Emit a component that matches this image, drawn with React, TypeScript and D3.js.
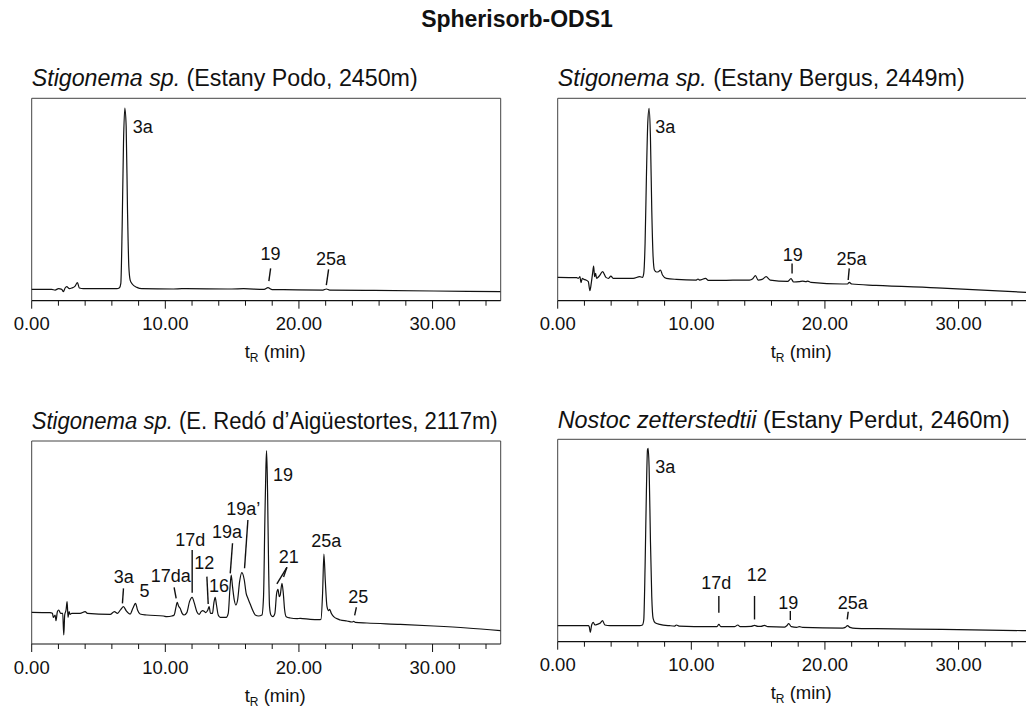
import React from "react";
import * as d3 from "d3";

// ---------- DATA ----------
const chartTitle = "Spherisorb-ODS1";
const xDomain: [number, number] = [0, 35.1];
const majorTicks = [0, 10, 20, 30];
const minorTicks = [2, 4, 6, 8, 12, 14, 16, 18, 22, 24, 26, 28, 32, 34];

const speciesNames = ["Stigonema sp.", "Stigonema sp.", "Stigonema sp.", "Nostoc zetterstedtii"];
const siteNames = [
  " (Estany Podo, 2450m)",
  " (Estany Bergus, 2449m)",
  " (E. Redó d\u2019Aigüestortes, 2117m)",
  " (Estany Perdut, 2460m)",
];

// [time (min), signal (% of panel height)]
const podoTrace: [number, number][] = [
  [0, 5.6], [1.5, 5.6], [1.75, 5.27], [2.0, 5.93], [2.25, 5.6], [2.37, 4.45], [2.5, 6.26],
  [2.62, 6.92], [2.82, 5.93], [3.0, 6.26], [3.25, 7.25], [3.42, 8.9], [3.57, 6.26], [3.87, 5.93],
  [6.37, 5.93], [6.57, 6.43], [6.67, 8.57], [6.77, 36.6], [6.87, 77.8], [6.97, 95.1], [7.07, 86.0],
  [7.17, 44.8], [7.27, 16.8], [7.37, 10.2], [7.52, 8.24], [7.87, 6.59], [8.24, 5.93],
  [10.61, 5.77], [11.24, 5.93], [14.98, 5.77], [15.86, 5.93], [17.4, 5.6], [17.68, 6.43],
  [18.0, 5.5], [18.85, 5.44], [21.8, 5.27], [22.05, 5.77], [22.3, 5.27], [25.09, 5.1],
  [30.09, 4.78], [35.08, 4.45],
];

const bergusTrace: [number, number][] = [
  [0.0, 11.53], [1.42, 11.37], [1.54, 11.04], [1.67, 11.86], [1.74, 8.9], [1.84, 11.04],
  [1.97, 10.54], [2.11, 10.21], [2.29, 9.39], [2.41, 4.94], [2.51, 8.57], [2.61, 13.51],
  [2.69, 17.13], [2.76, 11.86], [2.84, 13.51], [2.91, 11.04], [3.11, 12.19], [3.36, 14.33],
  [3.61, 11.53], [3.81, 11.04], [3.98, 12.19], [4.15, 11.04], [5.65, 11.04], [6.14, 11.86],
  [6.34, 11.53], [6.44, 13.51], [6.54, 28.34], [6.64, 61.29], [6.74, 87.64], [6.84, 95.06],
  [6.94, 81.05], [7.04, 44.81], [7.14, 21.75], [7.24, 15.16], [7.39, 14.17], [7.54, 14.33],
  [7.69, 15.16], [7.84, 12.69], [8.13, 11.04], [8.88, 10.54], [10.37, 10.21], [10.5, 10.71],
  [10.62, 10.21], [11.07, 11.04], [11.27, 10.05], [12.61, 10.05], [13.61, 10.21],
  [14.35, 10.21], [14.6, 10.87], [14.8, 12.36], [15.0, 10.21], [15.3, 10.54], [15.6, 11.86],
  [15.9, 10.21], [17.21, 9.56], [17.46, 10.87], [17.66, 9.23], [18.08, 9.39], [18.33, 9.72],
  [18.58, 9.39], [18.71, 9.72], [18.96, 9.06], [21.32, 8.24], [21.69, 8.24], [21.82, 9.06],
  [22.01, 8.24], [23.81, 7.58], [28.78, 6.26], [35.1, 4.12],
];

const redoTrace: [number, number][] = [
  [0, 15.6], [1.37, 15.44], [1.55, 15.11], [1.62, 13.14], [1.75, 14.29], [1.82, 11.49],
  [1.92, 15.93], [2.02, 16.75], [2.17, 15.11], [2.32, 15.11], [2.4, 4.43], [2.47, 14.29],
  [2.57, 16.75], [2.65, 20.85], [2.72, 13.14], [2.8, 15.93], [2.87, 14.61], [3.0, 15.11],
  [3.62, 15.11], [4.0, 15.93], [4.17, 15.11], [5.87, 14.61], [6.19, 15.93], [6.42, 15.11],
  [6.67, 17.08], [6.87, 18.39], [7.07, 16.42], [7.37, 14.78], [7.57, 17.57], [7.77, 20.03],
  [7.92, 16.75], [8.11, 14.78], [8.61, 14.29], [9.86, 13.79], [10.11, 13.46], [10.49, 13.79],
  [10.66, 14.29], [10.79, 17.9], [10.89, 20.53], [10.99, 18.72], [11.11, 17.57], [11.26, 15.11],
  [11.41, 14.29], [11.61, 15.44], [11.81, 20.85], [12.01, 22.99], [12.16, 20.36], [12.36, 15.93],
  [12.53, 14.61], [12.68, 15.93], [12.81, 16.42], [12.91, 16.09], [13.03, 15.44], [13.18, 16.75],
  [13.28, 18.39], [13.38, 15.11], [13.53, 15.11], [13.63, 20.03], [13.73, 22.99], [13.83, 19.21],
  [13.96, 14.29], [14.11, 13.14], [14.56, 13.14], [14.71, 15.11], [14.83, 26.6], [14.93, 33.99],
  [15.03, 28.24], [15.16, 21.67], [15.28, 19.21], [15.41, 21.67], [15.56, 30.71], [15.73, 35.14],
  [15.91, 31.53], [16.05, 24.96], [16.18, 22.5], [16.35, 19.7], [16.53, 16.75], [16.73, 14.29],
  [16.98, 13.79], [17.23, 14.29], [17.35, 23.32], [17.45, 61.08], [17.53, 87.36], [17.58, 95.24],
  [17.65, 75.86], [17.73, 38.1], [17.8, 18.39], [17.9, 14.29], [18.05, 13.46], [18.2, 15.11],
  [18.33, 24.96], [18.43, 26.93], [18.53, 23.32], [18.6, 24.14], [18.73, 29.89], [18.83, 24.96],
  [18.93, 16.75], [19.05, 13.46], [19.35, 12.81], [19.85, 12.48], [20.1, 12.64], [20.85, 12.15],
  [21.47, 11.99], [21.65, 12.15], [21.77, 24.96], [21.87, 44.33], [21.97, 31.53], [22.1, 18.39],
  [22.22, 16.42], [22.3, 17.08], [22.42, 15.11], [22.6, 13.46], [22.97, 12.15], [23.1, 11.82],
  [23.6, 11.33], [23.97, 10.84], [24.1, 11.17], [24.22, 10.67], [25.09, 10.34], [27.59, 9.69],
  [30.09, 8.87], [32.58, 7.88], [35.08, 6.57],
];

const perdutTrace: [number, number][] = [
  [0.0, 7.91], [2.29, 7.91], [2.36, 7.41], [2.44, 4.61], [2.54, 8.24], [2.66, 9.56], [2.79, 8.24],
  [2.96, 8.57], [3.16, 9.06], [3.36, 10.38], [3.53, 8.24], [3.91, 7.91], [6.14, 7.91], [6.34, 8.24],
  [6.44, 10.71], [6.54, 37.07], [6.64, 74.96], [6.72, 94.73], [6.77, 95.55], [6.84, 86.49],
  [6.94, 50.25], [7.04, 22.24], [7.14, 11.53], [7.29, 9.39], [7.64, 8.57], [8.38, 7.91],
  [8.76, 7.74], [8.88, 8.24], [9.08, 7.74], [11.37, 7.41], [11.92, 7.41], [12.06, 8.57],
  [12.21, 7.41], [13.23, 7.41], [13.48, 8.24], [13.66, 7.41], [14.48, 7.58], [14.73, 8.07],
  [14.98, 7.58], [15.22, 7.58], [15.47, 8.07], [15.72, 7.41], [16.97, 7.25], [17.14, 7.91],
  [17.29, 8.9], [17.49, 7.41], [17.89, 7.08], [18.08, 7.41], [18.33, 7.08], [21.32, 6.75],
  [21.52, 7.08], [21.69, 7.91], [21.87, 7.08], [22.31, 6.59], [23.81, 6.43], [28.78, 6.1],
  [35.1, 5.44],
];

type Ann = { text: string; t: number; v: number; anchor: "start" | "middle"; lines?: [number, number, number, number][] };

const podoLabels: Ann[] = [
  { text: "3a", t: 7.57, v: 83.0, anchor: "start" },
  { text: "19", t: 17.88, v: 20.1, anchor: "middle", lines: [[17.88, 16.0, 17.75, 9.7]] },
  { text: "25a", t: 22.4, v: 17.8, anchor: "middle", lines: [[22.22, 15.5, 22.05, 7.7]] },
];
const bergusLabels: Ann[] = [
  { text: "3a", t: 7.31, v: 83.0, anchor: "start" },
  { text: "19", t: 17.59, v: 19.6, anchor: "middle", lines: [[17.54, 18.4, 17.54, 13.5]] },
  { text: "25a", t: 21.99, v: 17.6, anchor: "middle", lines: [[21.82, 16.0, 21.74, 10.2]] },
];
const redoLabels: Ann[] = [
  { text: "3a", t: 6.89, v: 29.9, anchor: "middle", lines: [[6.87, 27.4, 6.79, 20.0]] },
  { text: "5", t: 8.44, v: 23.3, anchor: "middle" },
  { text: "17da", t: 10.41, v: 30.7, anchor: "middle", lines: [[10.66, 27.9, 10.81, 22.5]] },
  { text: "17d", t: 11.86, v: 48.4, anchor: "middle", lines: [[12.01, 46.3, 12.01, 25.3]] },
  { text: "12", t: 12.91, v: 36.8, anchor: "middle", lines: [[13.11, 33.2, 13.21, 19.7]] },
  { text: "16", t: 14.01, v: 25.8, anchor: "middle" },
  { text: "19a", t: 14.61, v: 52.1, anchor: "middle", lines: [[15.03, 49.6, 14.86, 34.8]] },
  { text: "19a\u2019", t: 15.83, v: 63.5, anchor: "middle", lines: [[16.18, 61.1, 15.93, 37.3]] },
  { text: "19", t: 18.05, v: 80.3, anchor: "start" },
  { text: "21", t: 19.23, v: 40.1, anchor: "middle", lines: [[19.1, 37.8, 18.35, 29.6], [19.1, 37.8, 18.85, 33.0]] },
  { text: "25a", t: 22.05, v: 47.9, anchor: "middle" },
  { text: "25", t: 24.44, v: 20.4, anchor: "middle", lines: [[24.3, 18.1, 24.17, 14.1]] },
];
const perdutLabels: Ann[] = [
  { text: "3a", t: 7.31, v: 83.5, anchor: "start" },
  { text: "17d", t: 11.87, v: 25.9, anchor: "middle", lines: [[12.06, 22.6, 12.06, 14.3]] },
  { text: "12", t: 14.9, v: 30.0, anchor: "middle", lines: [[14.73, 22.6, 14.73, 11.0]] },
  { text: "19", t: 17.26, v: 16.1, anchor: "middle", lines: [[17.41, 15.2, 17.41, 10.7]] },
  { text: "25a", t: 22.09, v: 16.0, anchor: "middle", lines: [[21.74, 14.8, 21.67, 11.0]] },
];

const traces = [podoTrace, bergusTrace, redoTrace, perdutTrace];
const labels = [podoLabels, bergusLabels, redoLabels, perdutLabels];

// ---------- LAYOUT ----------
const FONT = "'Liberation Sans', Arial, Helvetica, sans-serif";
const panels = [
  { left: 31.7, top: 98.3, bottom: 300.7, titleY: 86, titleW: 386 },
  { left: 557.7, top: 98.3, bottom: 300.7, titleY: 86, titleW: 407 },
  { left: 31.7, top: 441, bottom: 644, titleY: 429, titleW: 466 },
  { left: 557.7, top: 439.3, bottom: 641.7, titleY: 428, titleW: 452 },
];
const PLOT_W = 469;

function Panel({ idx }: { idx: number }) {
  const p = panels[idx];
  const x = d3.scaleLinear().domain(xDomain).range([p.left, p.left + PLOT_W]);
  const y = d3.scaleLinear().domain([0, 100]).range([p.bottom, p.top]);
  const line = d3
    .line<[number, number]>()
    .x((d) => x(d[0]))
    .y((d) => y(d[1]))
    .curve(d3.curveMonotoneX);
  const fmt = d3.format(".2f");
  const right = p.left + PLOT_W;
  return (
    <g>
      <text
        x={p.left}
        y={p.titleY}
        fontSize={23}
        fontFamily={FONT}
        fill="#111"
        textLength={p.titleW}
        lengthAdjust="spacingAndGlyphs"
      >
        <tspan fontStyle="italic">{speciesNames[idx]}</tspan>
        <tspan>{siteNames[idx]}</tspan>
      </text>
      {/* frame */}
      <path
        d={`M${p.left},${p.bottom}V${p.top}H${right}V${p.bottom}`}
        fill="none"
        stroke="#444"
        strokeWidth={1}
      />
      <line x1={p.left} x2={right} y1={p.bottom} y2={p.bottom} stroke="#111" strokeWidth={1.2} />
      {majorTicks.map((t) => (
        <g key={"M" + t}>
          <line x1={x(t)} x2={x(t)} y1={p.bottom} y2={p.bottom + 8} stroke="#111" strokeWidth={1} />
          <text
            x={x(t)}
            y={p.bottom + 29.5}
            textAnchor="middle"
            fontSize={18.5}
            fontFamily={FONT}
            fill="#111"
          >
            {fmt(t)}
          </text>
        </g>
      ))}
      {minorTicks.map((t) => (
        <line key={"m" + t} x1={x(t)} x2={x(t)} y1={p.bottom} y2={p.bottom + 5} stroke="#111" strokeWidth={1} />
      ))}
      <text x={p.left + 213} y={p.bottom + 57.5} fontSize={18.5} fontFamily={FONT} fill="#111">
        t<tspan fontSize={12} dy={4}>R</tspan>
        <tspan dy={-4}> (min)</tspan>
      </text>
      <path d={line(traces[idx]) || ""} fill="none" stroke="#111" strokeWidth={1.2} strokeLinejoin="round" />
      {labels[idx].map((a, i) => (
        <g key={i}>
          <text
            x={x(a.t)}
            y={y(a.v)}
            textAnchor={a.anchor}
            fontSize={18}
            fontFamily={FONT}
            fill="#111"
          >
            {a.text}
          </text>
          {(a.lines || []).map((l, j) => (
            <line
              key={j}
              x1={x(l[0])}
              y1={y(l[1])}
              x2={x(l[2])}
              y2={y(l[3])}
              stroke="#111"
              strokeWidth={1.4}
            />
          ))}
        </g>
      ))}
    </g>
  );
}

export default function App() {
  return (
    <svg
      width={1026}
      height={711}
      viewBox="0 0 1026 711"
      style={{ position: "absolute", left: 0, top: 0, background: "#fff" }}
    >
      <rect x={0} y={0} width={1026} height={711} fill="#fff" />
      <text
        x={517}
        y={27}
        textAnchor="middle"
        fontSize={23}
        fontWeight="bold"
        fontFamily={FONT}
        fill="#111"
      >
        {chartTitle}
      </text>
      {[0, 1, 2, 3].map((i) => (
        <Panel key={i} idx={i} />
      ))}
    </svg>
  );
}
